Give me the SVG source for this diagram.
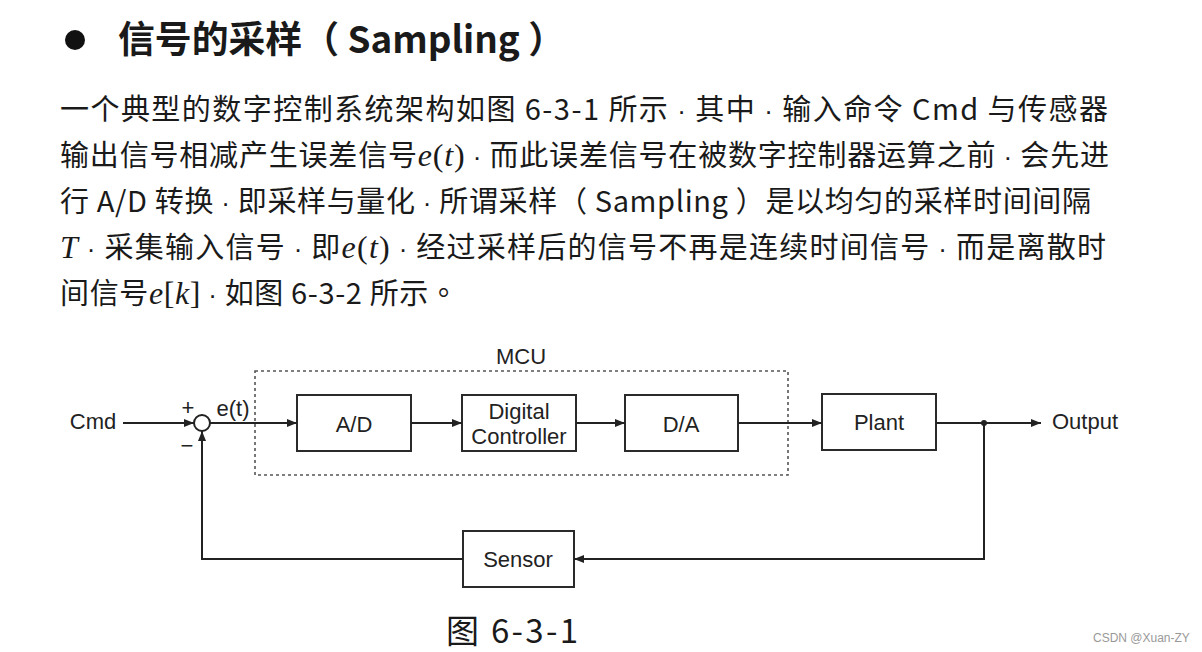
<svg xmlns="http://www.w3.org/2000/svg" width="1202" height="652" viewBox="0 0 1202 652">
<defs>
<style>
.cjk{font-family:"Noto Sans CJK SC","Noto Sans",sans-serif;fill:#1a1a1a}
.para{font-size:29px}
.m{font-family:"Liberation Serif",serif;font-style:italic;font-size:32px}
.mp{font-family:"Liberation Serif",serif;font-style:normal;font-size:32px}
.d{font-family:"Liberation Sans",sans-serif;font-size:26px}
.lbl{font-family:"Liberation Sans",Arial,sans-serif;font-size:22px;fill:#222;text-anchor:middle;dominant-baseline:central}
.box{fill:#fff;stroke:#2a2a2a;stroke-width:2}
.wire{fill:none;stroke:#222;stroke-width:2}
</style>
<marker id="ah" markerUnits="userSpaceOnUse" markerWidth="11" markerHeight="9" refX="10" refY="4" orient="auto">
<path d="M0,0 L10,4 L0,8 z" fill="#222"/>
</marker>
</defs>
<rect width="1202" height="652" fill="#fff"/>

<!-- Title -->
<g id="title">
<circle cx="75" cy="40" r="10" fill="#111"/>
<text class="cjk" x="118" y="53" font-size="37" font-weight="bold" textLength="447" lengthAdjust="spacingAndGlyphs">信号的采样（ Sampling ）</text>
</g>

<!-- Paragraph -->
<g id="paragraph">
<text class="cjk para" x="60" y="120" textLength="1048" lengthAdjust="spacing">一个典型的数字控制系统架构如图 6-3-1 所示 <tspan class="d">·</tspan> 其中 <tspan class="d">·</tspan> 输入命令 Cmd 与传感器</text>
<text class="cjk para" x="60" y="166" textLength="1049" lengthAdjust="spacing">输出信号相减产生误差信号<tspan class="m">e</tspan><tspan class="mp">(</tspan><tspan class="m">t</tspan><tspan class="mp">)</tspan> <tspan class="d">·</tspan> 而此误差信号在被数字控制器运算之前 <tspan class="d">·</tspan> 会先进</text>
<text class="cjk para" x="60" y="212" textLength="1031" lengthAdjust="spacing">行 A/D 转换 <tspan class="d">·</tspan> 即采样与量化 <tspan class="d">·</tspan> 所谓采样（ Sampling ）是以均匀的采样时间间隔</text>
<text class="cjk para" x="60" y="258" textLength="1046" lengthAdjust="spacing"><tspan class="m">T</tspan> <tspan class="d">·</tspan> 采集输入信号 <tspan class="d">·</tspan> 即<tspan class="m">e</tspan><tspan class="mp">(</tspan><tspan class="m">t</tspan><tspan class="mp">)</tspan> <tspan class="d">·</tspan> 经过采样后的信号不再是连续时间信号 <tspan class="d">·</tspan> 而是离散时</text>
<text class="cjk para" x="60" y="304" textLength="398" lengthAdjust="spacing">间信号<tspan class="m">e</tspan><tspan class="mp">[</tspan><tspan class="m">k</tspan><tspan class="mp">]</tspan> <tspan class="d">·</tspan> 如图 6-3-2 所示<tspan font-family="Noto Sans CJK TC">。</tspan></text>
</g>

<!-- MCU dashed group -->
<g id="mcu">
<rect x="255" y="371" width="533" height="104" fill="none" stroke="#555" stroke-width="1.6" stroke-dasharray="3,3"/>
<text class="lbl" x="521" y="356">MCU</text>
</g>

<g id="cmd"><text class="lbl" x="93" y="421">Cmd</text></g>

<g id="sum">
<circle cx="202" cy="423" r="8" fill="#fff" stroke="#222" stroke-width="2"/>
<text class="lbl" x="188" y="407" font-size="20">+</text>
<text class="lbl" x="187" y="445" font-size="20">−</text>
</g>

<g id="ad"><rect class="box" x="297" y="395" width="114" height="56"/><text class="lbl" x="354" y="424">A/D</text></g>
<g id="controller"><rect class="box" x="462" y="395" width="114" height="56"/><text class="lbl" x="519" y="411">Digital</text><text class="lbl" x="519" y="436">Controller</text></g>
<g id="da"><rect class="box" x="625" y="395" width="113" height="56"/><text class="lbl" x="681" y="424">D/A</text></g>
<g id="plant"><rect class="box" x="822" y="394" width="114" height="56"/><text class="lbl" x="879" y="422">Plant</text></g>
<g id="sensor"><rect class="box" x="463" y="531" width="111" height="56"/><text class="lbl" x="518" y="559">Sensor</text></g>
<g id="output"><text class="lbl" x="1085" y="421">Output</text></g>

<!-- Connectors -->
<g id="connectors">
<path class="wire" d="M123,423 H194" marker-end="url(#ah)"/>
<path class="wire" d="M210,423 H297" marker-end="url(#ah)"/>
<text class="lbl" x="233" y="408">e(t)</text>
<path class="wire" d="M411,423 H462" marker-end="url(#ah)"/>
<path class="wire" d="M576,423 H625" marker-end="url(#ah)"/>
<path class="wire" d="M738,423 H822" marker-end="url(#ah)"/>
<path class="wire" d="M936,423 H1041" marker-end="url(#ah)"/>
<circle cx="984" cy="423" r="3" fill="#222"/>
<path class="wire" d="M984,423 V559 H574" marker-end="url(#ah)"/>
<path class="wire" d="M463,559 H202 V431" marker-end="url(#ah)"/>
</g>

<!-- Caption -->
<g id="caption">
<text class="cjk" x="446" y="643" font-size="33" textLength="132" lengthAdjust="spacing">图 6-3-1</text>
</g>
<text x="1093" y="642" font-family="Liberation Sans, Arial, sans-serif" font-size="12" fill="#999">CSDN @Xuan-ZY</text>
</svg>
